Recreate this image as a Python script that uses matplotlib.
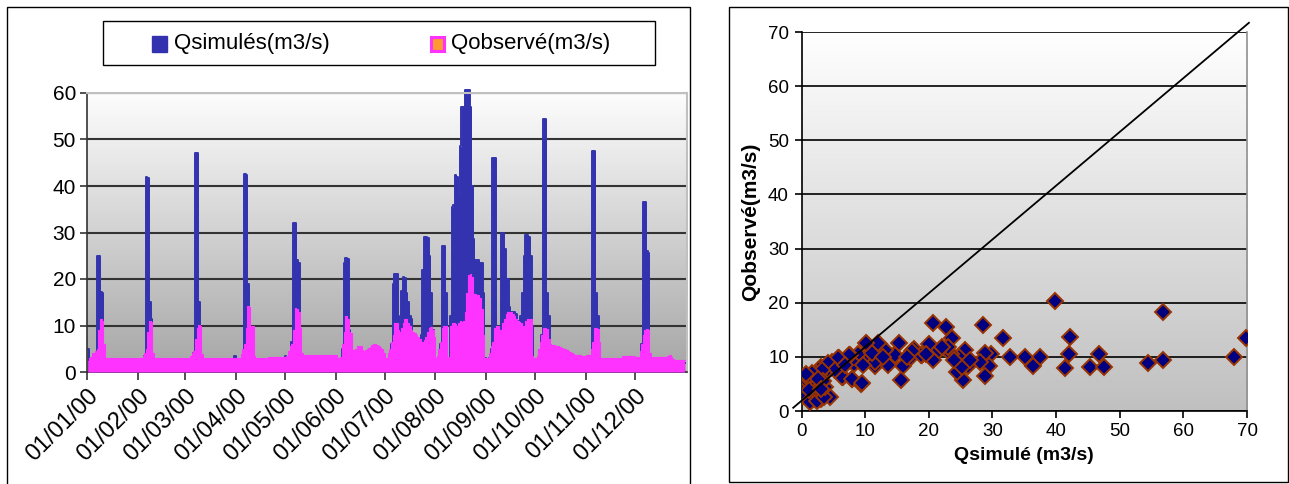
import numpy as np
import matplotlib
matplotlib.use("Agg")
import matplotlib.pyplot as plt
from matplotlib import patches
from matplotlib.colors import LinearSegmentedColormap

plt.rcParams['font.family'] = ['Liberation Sans', 'DejaVu Sans']

# daily discharge for 2000 (m3/s), one list per month
sim_jan = [5.0, 2.2, 2.4, 2.6, 3.0, 3.5, 25.0, 25.0, 17.3, 17.0, 4.0, 2.0, 2.0, 2.0, 2.0, 2.0,
           2.0, 2.0, 2.0, 2.0, 2.0, 2.0, 2.0, 2.0, 2.0, 2.0, 2.0, 2.0, 2.0, 2.0, 2.0]
obs_jan = [2.3, 3.0, 3.2, 4.0, 4.0, 4.5, 5.0, 9.0, 11.3, 11.0, 6.0, 3.1, 3.1, 3.1, 3.1, 3.1,
           3.1, 3.1, 3.1, 3.1, 3.1, 3.1, 3.1, 3.1, 3.1, 3.1, 3.1, 3.1, 3.1, 3.1, 3.1]
sim_feb = [2.0, 2.0, 2.0, 2.0, 3.5, 42.0, 41.8, 15.0, 11.5, 3.0, 2.0, 2.0, 2.0, 2.0, 2.0,
           2.0, 2.0, 2.0, 2.0, 2.0, 2.0, 2.0, 2.0, 2.0, 2.0, 2.0, 2.0, 2.0, 2.0]
obs_feb = [3.1, 3.1, 3.1, 3.5, 4.0, 5.0, 8.5, 11.0, 10.8, 4.0, 3.1, 3.1, 3.1, 3.1, 3.1,
           3.1, 3.1, 3.1, 3.1, 3.1, 3.1, 3.1, 3.1, 3.1, 3.1, 3.1, 3.1, 3.1, 3.1]
sim_mar = [2.0, 2.0, 2.0, 2.0, 2.0, 4.0, 47.2, 47.0, 15.0, 9.0, 3.0, 2.0, 2.0, 2.0, 2.0, 2.0,
           2.0, 2.0, 2.0, 2.0, 2.0, 2.0, 2.0, 2.0, 2.0, 2.0, 2.0, 2.0, 2.0, 2.0, 3.4]
obs_mar = [3.1, 3.1, 3.1, 3.5, 4.0, 4.5, 7.0, 9.5, 10.2, 10.0, 3.8, 3.1, 3.1, 3.1, 3.1, 3.1,
           3.1, 3.1, 3.1, 3.1, 3.1, 3.1, 3.1, 3.1, 3.1, 3.1, 3.1, 3.1, 3.1, 3.1, 3.1]
sim_apr = [2.0, 2.0, 2.0, 2.0, 3.0, 42.6, 42.4, 19.0, 12.0, 8.0, 4.0, 2.0, 2.0, 2.0, 2.0,
           2.0, 2.0, 2.0, 2.0, 2.0, 2.0, 2.0, 2.0, 2.0, 2.0, 2.0, 2.0, 2.0, 2.0, 2.0]
obs_apr = [3.1, 3.1, 3.1, 3.8, 5.0, 6.0, 9.5, 14.2, 14.0, 10.0, 10.0, 3.5, 3.1, 3.1, 3.1,
           3.1, 3.1, 3.1, 3.1, 3.1, 3.3, 3.3, 3.3, 3.3, 3.3, 3.3, 3.3, 3.3, 3.3, 3.3]
sim_may = [3.4, 2.0, 2.5, 4.0, 6.5, 32.0, 32.0, 24.0, 23.5, 8.0, 3.0, 2.0, 2.0, 2.0, 2.0, 2.0,
           2.0, 2.0, 2.0, 2.0, 2.0, 2.0, 2.0, 2.0, 2.0, 2.0, 2.0, 2.0, 2.0, 2.0, 2.0]
obs_may = [3.0, 3.4, 4.5, 5.5, 6.0, 9.0, 13.8, 13.5, 13.0, 9.5, 4.0, 3.7, 3.7, 3.7, 3.7, 3.7,
           3.7, 3.7, 3.7, 3.7, 3.7, 3.7, 3.7, 3.7, 3.7, 3.7, 3.7, 3.7, 3.7, 3.7, 3.7]
sim_jun = [2.0, 2.0, 2.0, 2.0, 5.0, 23.5, 24.5, 24.3, 9.0, 6.0, 2.5, 2.5, 2.5, 2.5, 2.5,
           2.5, 2.5, 2.5, 2.5, 2.5, 2.5, 2.5, 2.5, 2.5, 2.5, 2.5, 2.5, 2.5, 2.5, 2.5]
obs_jun = [3.7, 3.0, 3.0, 3.2, 6.0, 8.5, 12.0, 11.5, 8.5, 8.3, 4.7, 4.7, 5.0, 5.5, 5.5,
           5.5, 4.8, 4.6, 4.8, 5.0, 5.2, 5.4, 5.8, 6.0, 6.0, 5.8, 5.5, 5.2, 5.0, 4.0]
sim_jul = [2.5, 2.5, 2.5, 2.5, 6.0, 19.0, 21.0, 21.0, 12.0, 9.0, 17.5, 20.5, 20.3, 17.0, 15.0,
           12.0, 11.5, 8.0, 7.5, 7.5, 7.0, 6.5, 8.0, 22.0, 29.0, 29.0, 28.8, 25.0, 17.0, 9.0, 2.5]
obs_jul = [3.0, 3.0, 4.0, 5.0, 6.5, 8.0, 10.5, 10.5, 9.0, 8.5, 9.5, 10.5, 11.5, 11.3, 10.5,
           10.0, 9.0, 8.5, 8.3, 8.0, 7.5, 7.0, 6.0, 6.5, 6.8, 7.5, 8.5, 9.5, 9.6, 9.0, 7.5]
sim_aug = [2.5, 2.5, 3.0, 6.0, 27.0, 27.2, 17.0, 3.0, 2.5, 12.0, 35.5, 36.0, 42.4, 42.0, 37.7,
           48.5, 57.0, 57.0, 60.6, 60.6, 60.6, 57.0, 40.0, 28.7, 24.0, 24.0, 24.0, 23.5, 23.5, 17.0, 3.0]
obs_aug = [3.0, 3.5, 5.0, 6.5, 9.5, 10.0, 10.0, 3.2, 3.2, 10.0, 10.5, 10.5, 10.3, 10.0, 10.5,
           11.0, 10.8, 11.0, 13.0, 17.0, 20.8, 21.0, 20.5, 16.5, 16.8, 16.5, 16.5, 16.0, 13.5, 8.0, 3.0]
sim_sep = [2.5, 2.5, 3.0, 5.0, 46.0, 46.0, 10.0, 9.0, 8.5, 30.0, 30.0, 26.5, 20.0, 20.0, 14.0,
           13.0, 13.0, 13.0, 12.5, 11.0, 10.0, 12.0, 17.0, 25.0, 29.5, 29.5, 29.0, 25.0, 10.0, 2.5]
obs_sep = [3.0, 3.0, 4.0, 5.5, 6.5, 9.5, 10.0, 10.0, 9.0, 9.0, 10.5, 11.5, 12.5, 13.0, 13.0,
           12.8, 12.5, 12.0, 11.5, 11.0, 10.8, 10.5, 10.0, 9.5, 11.0, 11.5, 11.5, 11.3, 3.5, 3.0]
sim_oct = [2.5, 2.5, 2.5, 4.0, 8.0, 54.5, 54.5, 17.0, 12.0, 2.5, 2.5, 2.5, 2.5, 2.5, 2.5, 2.5,
           2.5, 2.5, 2.5, 2.5, 2.5, 2.5, 2.5, 2.5, 2.5, 2.5, 2.5, 2.5, 2.5, 2.5, 2.5]
obs_oct = [3.0, 3.5, 5.0, 6.5, 8.0, 9.5, 9.5, 9.3, 7.0, 6.0, 5.7, 5.7, 5.6, 5.5, 5.5, 5.3,
           5.2, 5.0, 5.0, 4.8, 4.5, 4.3, 4.0, 3.8, 3.7, 3.7, 3.6, 3.6, 3.5, 3.5, 3.4]
sim_nov = [2.5, 2.5, 2.5, 2.5, 47.5, 47.5, 17.0, 12.0, 3.0, 2.0, 2.0, 2.0, 2.0, 2.0, 2.0,
           2.0, 2.0, 2.0, 2.0, 2.0, 2.0, 2.0, 2.0, 2.0, 2.0, 2.0, 2.0, 2.0, 2.0, 2.0]
obs_nov = [3.6, 3.6, 3.6, 5.0, 6.5, 9.5, 9.5, 9.3, 6.5, 3.0, 3.0, 3.0, 3.0, 3.0, 3.0,
           3.0, 3.0, 3.0, 3.0, 3.0, 3.0, 3.0, 3.4, 3.4, 3.4, 3.4, 3.4, 3.4, 3.4, 3.4]
sim_dec = [2.0, 2.0, 2.0, 2.0, 6.0, 36.5, 36.5, 26.0, 25.5, 3.0, 2.0, 2.0, 2.0, 2.0, 2.0, 2.0,
           2.0, 2.0, 2.0, 2.0, 2.0, 2.0, 2.0, 2.0, 2.0, 2.0, 2.0, 2.0, 2.0, 2.0, 2.0]
obs_dec = [3.3, 3.3, 3.3, 4.5, 6.0, 8.0, 9.0, 9.2, 9.0, 4.0, 3.2, 3.2, 3.2, 3.2, 3.2, 3.2,
           3.2, 3.2, 3.2, 3.2, 3.5, 3.6, 3.3, 2.8, 2.5, 2.5, 2.5, 2.5, 2.5, 2.5, 2.5]

month_starts = [0, 31, 60, 91, 121, 152, 182, 213, 244, 274, 305, 335]
month_labels = ['01/01/00', '01/02/00', '01/03/00', '01/04/00', '01/05/00', '01/06/00',
                '01/07/00', '01/08/00', '01/09/00', '01/10/00', '01/11/00', '01/12/00']

# scatter: simulated vs observed
scat_sim = [39.9, 56.8, 69.8, 67.9, 56.8, 54.4, 46.7, 45.3, 47.5, 42.2, 42.1, 41.4, 37.4, 36.4,
            35.1, 32.7, 31.6, 29.8, 28.9, 29.5, 28.8, 28.5, 28.1, 26.1, 25.7, 25.4, 24.8, 24.4,
            23.7, 23.5, 23.0, 22.7, 20.7, 20.7, 20.0, 21.6, 18.9, 17.6, 17.1, 15.9, 15.6, 15.3,
            14.5, 13.9, 13.0, 12.1, 11.2, 11.5, 10.3, 10.0, 9.3, 8.9, 8.0, 8.3, 7.6, 6.5, 5.9,
            4.8, 4.1, 3.1, 4.4, 1.2, 25.2, 22.0, 18.8, 17.3, 14.7, 13.1, 13.6, 11.5, 7.4, 5.8,
            4.2, 6.3, 7.9, 9.5, 11.0, 12.0, 10.2, 16.5, 19.5, 26.5, 24.0, 9.6, 12.8, 5.3, 6.8,
            3.5, 2.5, 0.3, 0.5, 0.4, 0.6, 0.2, 0.8, 0.5, 0.3, 1.0, 1.2, 1.5, 1.8, 2.0, 1.6, 1.3,
            1.0, 0.9, 1.2, 1.5, 1.8, 2.2, 2.0, 2.5, 2.7, 3.0, 2.8, 2.3, 3.2, 1.7, 0.7, 1.4, 2.5,
            3.5, 3.7, 3.3, 0.1, 1.1, 2.6, 3.0]
scat_obs = [20.4, 18.2, 13.4, 10.0, 9.5, 8.8, 10.5, 8.1, 8.1, 13.7, 10.5, 7.9, 9.9, 8.3,
            10.0, 10.0, 13.4, 10.6, 10.8, 8.4, 6.4, 15.8, 9.1, 8.4, 11.2, 5.8, 10.0, 7.2,
            13.4, 10.6, 11.8, 15.6, 16.2, 9.4, 12.3, 11.2, 10.3, 11.5, 9.7, 8.4, 5.7, 12.5,
            10.3, 9.1, 9.7, 12.4, 11.2, 8.4, 12.4, 9.1, 5.0, 10.6, 6.0, 8.7, 10.3, 6.3, 9.7,
            9.1, 8.4, 8.1, 2.5, 2.3, 8.2, 11.9, 10.3, 11.0, 10.3, 11.3, 8.5, 9.1, 10.3, 9.7,
            8.8, 6.3, 6.0, 5.1, 10.7, 12.5, 12.5, 10.0, 10.5, 9.5, 9.5, 8.5, 10.0, 7.5, 8.5,
            7.0, 6.2, 5.8, 6.2, 5.0, 4.5, 4.0, 3.5, 3.0, 2.7, 2.5, 2.2, 2.0, 2.3, 2.7, 3.2, 4.0,
            4.6, 5.5, 6.0, 6.5, 5.8, 5.0, 4.2, 3.8, 3.0, 2.3, 6.8, 7.0, 7.5, 7.0, 6.8, 1.7, 1.8,
            2.5, 4.5, 5.5, 3.5, 3.8, 6.0, 4.0]
line_x = [-1.3, 70.3]
line_y = [0.6, 71.7]

q_sim = np.array(sim_jan + sim_feb + sim_mar + sim_apr + sim_may + sim_jun +
                 sim_jul + sim_aug + sim_sep + sim_oct + sim_nov + sim_dec)
q_obs = np.array(obs_jan + obs_feb + obs_mar + obs_apr + obs_may + obs_jun +
                 obs_jul + obs_aug + obs_sep + obs_oct + obs_nov + obs_dec)
days = np.arange(len(q_sim)) + 0.5

BLUE = '#3333b0'
PINK = '#ff33ff'
W, H = 1289, 484

fig = plt.figure(figsize=(W / 100, H / 100), dpi=100)


def px_box(x0, y0, x1, y1):
    # pixel box (top-left origin) -> figure fraction rect
    return [x0 / W, 1 - y1 / H, (x1 - x0) / W, (y1 - y0) / H]


def add_gradient(ax, top, bottom):
    cmap = LinearSegmentedColormap.from_list('bg', [top, bottom])
    grad = np.linspace(0, 1, 256).reshape(-1, 1)
    ax.imshow(grad, cmap=cmap, extent=(0, 1, 0, 1), transform=ax.transAxes,
              aspect='auto', zorder=0, interpolation='bilinear')


# outer frames
fig.add_artist(patches.Rectangle((7 / W, -0.1), 683 / W, 1 - 7 / H + 0.1,
                                 transform=fig.transFigure, fill=False,
                                 edgecolor='black', lw=1))
fig.add_artist(patches.Rectangle((729 / W, 1 - 482 / H), 559 / W, 475 / H,
                                 transform=fig.transFigure, fill=False,
                                 edgecolor='black', lw=1))

# ---- left: hydrograph ----
ax1 = fig.add_axes(px_box(87, 93, 687, 372))
add_gradient(ax1, '#fdfdfd', '#a6a6a6')
ax1.fill_between(days, q_sim, color=BLUE, lw=0, step='mid', zorder=2, clip_on=False)
ax1.plot(days, q_sim, color=BLUE, lw=1.4, drawstyle='steps-mid', zorder=2, clip_on=False)
ax1.fill_between(days, q_obs, color=PINK, lw=0, step='mid', zorder=3)
ax1.plot(days, q_obs, color=PINK, lw=0.8, drawstyle='steps-mid', zorder=3)
ax1.set_xlim(0, 367)
ax1.set_ylim(0, 60)
ax1.set_yticks(range(0, 61, 10))
ax1.set_xticks(month_starts)
ax1.set_xticklabels(month_labels, rotation=45, ha='right', rotation_mode='anchor')
ax1.yaxis.grid(True, color='#333333', lw=1.5)
ax1.set_axisbelow(True)
for side in ['left', 'bottom']:
    ax1.spines[side].set_color('#333333')
    ax1.spines[side].set_linewidth(1.2)
for side in ['top', 'right']:
    ax1.spines[side].set_color('#c0c0c0')
    ax1.spines[side].set_linewidth(1.5)
ax1.tick_params(axis='y', length=5, width=1.2, color='#333333', labelsize=15, pad=3)
ax1.tick_params(axis='x', length=6, width=1.2, color='#333333', labelsize=17, pad=3)

# legend box
fig.add_artist(patches.Rectangle((103 / W, 1 - 65 / H), 552 / W, 44 / H,
                                 transform=fig.transFigure, facecolor='white',
                                 edgecolor='black', lw=1))
fig.add_artist(patches.Rectangle((152 / W, 1 - 52 / H), 15 / W, 16 / H,
                                 transform=fig.transFigure, facecolor=BLUE,
                                 edgecolor=BLUE, lw=1))
fig.add_artist(patches.Rectangle((431 / W, 1 - 51 / H), 13 / W, 14 / H,
                                 transform=fig.transFigure, facecolor='#ff9933',
                                 edgecolor=PINK, lw=2.2))
fig.text(174 / W, 1 - 44 / H, 'Qsimulés(m3/s)', fontsize=16, va='center', ha='left')
fig.text(451 / W, 1 - 44 / H, 'Qobservé(m3/s)', fontsize=16, va='center', ha='left')

# ---- right: scatter ----
ax2 = fig.add_axes(px_box(801.5, 32, 1247, 411))
add_gradient(ax2, '#ffffff', '#c0c0c0')
ax2.plot(scat_sim, scat_obs, 'D', ms=8.5, mfc='#000080', mec='#993300', mew=1.4,
         ls='none', zorder=3)
ax2.plot(line_x, line_y, color='black', lw=1.3, clip_on=False, zorder=4)
ax2.set_xlim(0, 70)
ax2.set_ylim(0, 70)
ax2.set_xticks(range(0, 71, 10))
ax2.set_yticks(range(0, 71, 10))
ax2.yaxis.grid(True, color='black', lw=1.2)
ax2.set_axisbelow(True)
ax2.spines['top'].set_visible(False)
ax2.spines['right'].set_color('#909090')
ax2.spines['right'].set_linewidth(1.2)
for side in ['left', 'bottom']:
    ax2.spines[side].set_color('black')
    ax2.spines[side].set_linewidth(1.2)
ax2.tick_params(length=5, width=1.2, labelsize=13.5, pad=4)
ax2.set_xlabel('Qsimulé (m3/s)', fontsize=14, fontweight='bold', labelpad=5)
ax2.set_ylabel('Qobservé(m3/s)', fontsize=15, fontweight='bold', labelpad=6)

fig.savefig('out.png', dpi=100)
